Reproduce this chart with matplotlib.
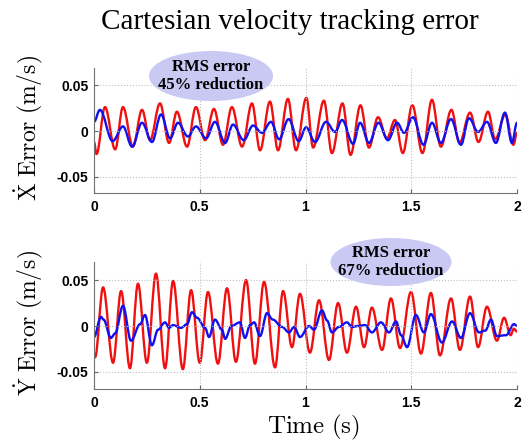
import matplotlib
matplotlib.use("Agg")
import matplotlib.pyplot as plt
from matplotlib.patches import Ellipse, PathPatch
from matplotlib.path import Path

plt.rcParams["mathtext.fontset"] = "cm"

# peaks / troughs (time in s, error in m/s)
x_red_t = [0.0, 0.012, 0.052, 0.100, 0.137, 0.184, 0.227, 0.265, 0.312, 0.355,
           0.392, 0.440, 0.482, 0.525, 0.567, 0.610, 0.652, 0.700, 0.747, 0.785,
           0.832, 0.870, 0.917, 0.955, 1.004, 1.036, 1.087, 1.125, 1.175, 1.213,
           1.260, 1.300, 1.343, 1.385, 1.423, 1.460, 1.505, 1.553, 1.598, 1.640,
           1.690, 1.728, 1.778, 1.818, 1.863, 1.897, 1.945, 1.983, 2.0]
x_red_v = [-0.012, -0.025, 0.026, -0.020, 0.026, -0.017, 0.023, -0.010, 0.030, -0.013,
           0.021, -0.017, 0.026, -0.010, 0.024, -0.015, 0.026, -0.017, 0.030, -0.021,
           0.032, -0.021, 0.035, -0.021, 0.036, -0.018, 0.033, -0.024, 0.030, -0.026,
           0.028, -0.018, 0.015, -0.008, 0.012, -0.024, 0.028, -0.024, 0.034, -0.017,
           0.023, -0.013, 0.020, -0.012, 0.021, -0.009, 0.018, -0.015, -0.002]

x_blue_t = [0.0, 0.028, 0.088, 0.137, 0.180, 0.227, 0.274, 0.317, 0.360, 0.397,
            0.444, 0.482, 0.530, 0.572, 0.620, 0.657, 0.708, 0.752, 0.794, 0.837,
            0.875, 0.920, 0.968, 1.003, 1.045, 1.097, 1.140, 1.173, 1.225, 1.258,
            1.300, 1.345, 1.390, 1.433, 1.466, 1.508, 1.558, 1.598, 1.640, 1.688,
            1.735, 1.773, 1.816, 1.858, 1.900, 1.943, 1.976, 2.0]
x_blue_v = [0.010, 0.023, -0.011, 0.005, -0.017, 0.009, -0.012, 0.018, -0.008, 0.009,
            -0.006, 0.005, -0.008, 0.010, -0.013, 0.007, -0.010, 0.006, -0.002, 0.010,
            -0.009, 0.013, -0.011, 0.004, -0.012, 0.010, -0.001, 0.012, -0.014, 0.009,
            -0.013, 0.009, -0.010, 0.009, -0.002, 0.015, -0.015, 0.009, -0.013, 0.013,
            -0.015, 0.014, -0.001, 0.010, -0.013, 0.020, -0.013, 0.009]

y_red_t = [0.0, 0.005, 0.043, 0.090, 0.128, 0.170, 0.208, 0.250, 0.293, 0.336,
           0.374, 0.420, 0.459, 0.500, 0.539, 0.586, 0.629, 0.671, 0.719, 0.761,
           0.804, 0.856, 0.894, 0.936, 0.974, 1.021, 1.064, 1.111, 1.154, 1.196,
           1.239, 1.277, 1.314, 1.362, 1.404, 1.447, 1.499, 1.546, 1.593, 1.636,
           1.688, 1.730, 1.778, 1.816, 1.858, 1.905, 1.939, 1.970, 1.985, 2.0]
y_red_v = [-0.030, -0.034, 0.042, -0.040, 0.038, -0.046, 0.046, -0.040, 0.057, -0.046,
           0.049, -0.047, 0.039, -0.040, 0.037, -0.041, 0.041, -0.039, 0.050, -0.041,
           0.048, -0.045, 0.038, -0.023, 0.035, -0.029, 0.028, -0.037, 0.025, -0.029,
           0.021, -0.023, 0.020, -0.026, 0.030, -0.024, 0.037, -0.030, 0.036, -0.032,
           0.030, -0.026, 0.032, -0.023, 0.021, -0.016, 0.009, -0.010, -0.003, -0.006]

y_blue_t = [0.0, 0.033, 0.045, 0.080, 0.100, 0.137, 0.175, 0.218, 0.241, 0.274,
            0.303, 0.336, 0.355, 0.374, 0.411, 0.440, 0.463, 0.487, 0.525, 0.544,
            0.572, 0.605, 0.620, 0.650, 0.690, 0.714, 0.738, 0.757, 0.785, 0.818,
            0.845, 0.889, 0.922, 0.946, 0.974, 1.017, 1.040, 1.078, 1.102, 1.125,
            1.158, 1.196, 1.220, 1.250, 1.281, 1.314, 1.357, 1.395, 1.428, 1.452,
            1.480, 1.522, 1.560, 1.593, 1.645, 1.693, 1.735, 1.778, 1.820, 1.850,
            1.877, 1.905, 1.948, 1.986, 2.0]
y_blue_v = [-0.012, 0.010, 0.007, -0.013, -0.008, 0.022, -0.016, 0.002, 0.012, -0.021,
            -0.004, 0.004, -0.002, 0.001, -0.002, 0.002, 0.015, 0.009, -0.002, -0.012,
            0.007, -0.004, -0.014, 0.000, 0.004, -0.013, 0.001, 0.004, -0.011, 0.014,
            0.007, -0.001, -0.007, -0.001, -0.012, 0.000, -0.004, 0.017, 0.006, -0.007,
            -0.001, 0.004, -0.001, 0.000, 0.001, -0.007, 0.004, -0.007, 0.005, -0.010,
            -0.023, 0.012, -0.007, 0.013, -0.018, 0.005, -0.013, 0.014, -0.007, -0.005,
            0.007, -0.011, -0.010, 0.002, 0.000]

xticks = [0, 0.5, 1, 1.5, 2]
xticklabels = ["0", "0.5", "1", "1.5", "2"]
yticks = [-0.05, 0, 0.05]
yticklabels = ["-0.05", "0", "0.05"]


def smooth_trace(ax, ts, vs, color):
    # cubic segments with flat tangents at each read extremum
    verts = [(ts[0], vs[0])]
    codes = [Path.MOVETO]
    for t0, v0, t1, v1 in zip(ts[:-1], vs[:-1], ts[1:], vs[1:]):
        k = 0.364 * (t1 - t0)
        verts += [(t0 + k, v0), (t1 - k, v1), (t1, v1)]
        codes += [Path.CURVE4] * 3
    ax.add_patch(PathPatch(Path(verts, codes), fill=False, edgecolor=color,
                           lw=1.7, joinstyle="round", capstyle="round"))


panels = [
    (x_red_t, x_red_v, x_blue_t, x_blue_v, r"$\dot{\mathrm{X}}\ \mathrm{Error\ (m/s)}$"),
    (y_red_t, y_red_v, y_blue_t, y_blue_v, r"$\dot{\mathrm{Y}}\ \mathrm{Error\ (m/s)}$"),
]
boxes = [
    [94 / 529, 1 - 193 / 441, 423 / 529, 125 / 441],
    [94 / 529, 1 - 389 / 441, 423 / 529, 127 / 441],
]
ylims = [(-0.0674, 0.0685), (-0.0685, 0.0696)]

fig = plt.figure(figsize=(5.29, 4.41), dpi=100)

for (rt, rv, bt, bv, label), box, ylim in zip(panels, boxes, ylims):
    ax = fig.add_axes(box)
    smooth_trace(ax, rt, rv, "#f01010")
    smooth_trace(ax, bt, bv, "#1010f0")
    ax.set_xlim(0, 2)
    ax.set_ylim(*ylim)
    ax.set_xticks(xticks)
    ax.set_xticklabels(xticklabels, fontfamily="Liberation Sans", fontweight="bold", fontsize=10)
    ax.set_yticks(yticks)
    ax.set_yticklabels(yticklabels, fontfamily="Liberation Sans", fontweight="bold", fontsize=10)
    ax.tick_params(direction="in", length=3, color="0.4")
    ax.tick_params(axis="x", pad=5)
    ax.tick_params(axis="y", pad=4)
    ax.grid(True, linestyle=":", color="0.75", linewidth=0.8)
    for side in ["top", "right"]:
        ax.spines[side].set_visible(False)
    for side in ["left", "bottom"]:
        ax.spines[side].set_color("0.45")
    ax.set_ylabel(label, fontsize=17)
    ax.yaxis.set_label_coords(-0.115, 0.52)

fig.text(290 / 529, 1 - 22 / 441, "Cartesian velocity tracking error",
         ha="center", va="center", fontfamily="Liberation Serif", fontsize=21)
fig.text(314 / 529, 1 - 427 / 441, r"$\mathrm{Time\ (s)}$", ha="center", va="center", fontsize=18)

notes = [((211, 76), (124, 50), "RMS error\n45% reduction"),
         ((391, 262), (121, 48), "RMS error\n67% reduction")]
for (cx, cy), (w, h), txt in notes:
    fig.add_artist(Ellipse((cx / 529, 1 - cy / 441), w / 529, h / 441,
                           transform=fig.transFigure, facecolor="#c9c9f4", edgecolor="none", zorder=5))
    fig.text(cx / 529, 1 - cy / 441, txt, ha="center", va="center", fontfamily="Liberation Serif",
             fontweight="bold", fontsize=12, linespacing=1.2, zorder=6)

fig.savefig("out.png", dpi=100)
